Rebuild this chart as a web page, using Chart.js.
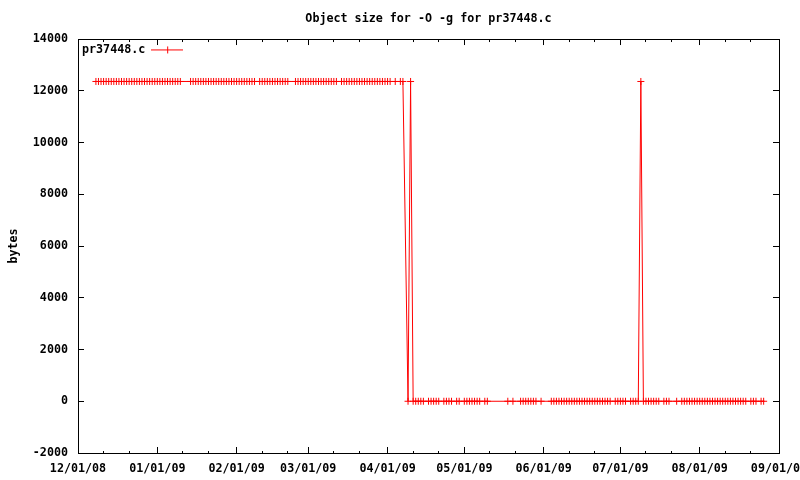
<!DOCTYPE html>
<html>
<head>
<meta charset="utf-8">
<script src="https://cdn.jsdelivr.net/npm/chart.js@4.4.1/dist/chart.umd.min.js"></script>
<style>
  html, body { margin: 0; padding: 0; background: #ffffff; }
  #c { display: block; }
</style>
</head>
<body>
<canvas id="c" width="800" height="480"></canvas>
<script>
// ---------------- data ----------------
const chartTitle = "Object size for -O -g for pr37448.c";
const seriesName = "pr37448.c";
const yAxisTitle = "bytes";

// sample dates (MM/DD/YY) and object size in bytes
const dates = [
  "12/08/08","12/09/08","12/10/08","12/11/08","12/12/08","12/13/08","12/14/08","12/15/08","12/16/08","12/17/08","12/18/08","12/19/08",
  "12/20/08","12/21/08","12/22/08","12/23/08","12/24/08","12/25/08","12/26/08","12/27/08","12/28/08","12/29/08","12/30/08","12/31/08",
  "01/01/09","01/02/09","01/03/09","01/04/09","01/05/09","01/06/09","01/07/09","01/08/09","01/09/09","01/10/09",
  "01/14/09","01/15/09","01/16/09","01/17/09","01/18/09","01/19/09","01/20/09","01/21/09","01/22/09",
  "01/23/09","01/24/09","01/25/09","01/26/09","01/27/09","01/28/09","01/29/09","01/30/09","01/31/09",
  "02/01/09","02/02/09","02/03/09","02/04/09","02/05/09","02/06/09","02/07/09","02/08/09",
  "02/10/09","02/11/09","02/12/09","02/13/09","02/14/09","02/15/09","02/16/09","02/17/09","02/18/09","02/19/09","02/20/09","02/21/09",
  "02/24/09","02/25/09","02/26/09","02/27/09","02/28/09",
  "03/01/09","03/02/09","03/03/09","03/04/09","03/05/09","03/06/09","03/07/09","03/08/09","03/09/09","03/10/09","03/11/09","03/12/09",
  "03/14/09","03/15/09","03/16/09","03/17/09","03/18/09","03/19/09","03/20/09","03/21/09","03/22/09",
  "03/23/09","03/24/09","03/25/09","03/26/09","03/27/09","03/28/09","03/29/09","03/30/09","03/31/09",
  "04/01/09","04/02/09","04/04/09","04/06/09","04/07/09",
  "04/09/09","04/10/09","04/11/09",
  "04/12/09","04/13/09","04/14/09","04/15/09","04/17/09","04/18/09","04/19/09","04/20/09","04/21/09",
  "04/23/09","04/24/09","04/25/09","04/26/09","04/28/09","04/29/09",
  "05/01/09","05/02/09","05/03/09","05/04/09","05/05/09","05/06/09","05/07/09","05/09/09","05/10/09","05/18/09","05/20/09",
  "05/23/09","05/24/09","05/25/09","05/26/09","05/27/09","05/28/09","05/29/09","05/31/09",
  "06/04/09","06/05/09","06/06/09","06/07/09","06/08/09","06/09/09","06/10/09","06/11/09","06/12/09","06/13/09","06/14/09","06/15/09",
  "06/16/09","06/17/09","06/18/09","06/19/09","06/20/09","06/21/09","06/22/09","06/23/09","06/24/09","06/25/09","06/26/09","06/27/09",
  "06/29/09","06/30/09",
  "07/01/09","07/02/09","07/03/09","07/05/09","07/06/09","07/07/09","07/08/09",
  "07/09/09",
  "07/10/09","07/11/09","07/12/09","07/13/09","07/14/09","07/15/09","07/16/09","07/18/09","07/19/09","07/20/09","07/23/09",
  "07/25/09","07/26/09","07/27/09","07/28/09","07/29/09","07/30/09","07/31/09",
  "08/01/09","08/02/09","08/03/09","08/04/09","08/05/09","08/06/09","08/07/09","08/08/09","08/09/09","08/10/09",
  "08/11/09","08/12/09","08/13/09","08/14/09","08/15/09","08/16/09","08/17/09","08/18/09","08/19/09",
  "08/21/09","08/22/09","08/23/09","08/25/09","08/26/09"
];
const sizes = [
  12360,12360,12360,12360,12360,12360,12360,12360,12360,12360,12360,12360,
  12360,12360,12360,12360,12360,12360,12360,12360,12360,12360,12360,12360,
  12360,12360,12360,12360,12360,12360,12360,12360,12360,12360,
  12360,12360,12360,12360,12360,12360,12360,12360,12360,
  12360,12360,12360,12360,12360,12360,12360,12360,12360,
  12360,12360,12360,12360,12360,12360,12360,12360,
  12360,12360,12360,12360,12360,12360,12360,12360,12360,12360,12360,12360,
  12360,12360,12360,12360,12360,
  12360,12360,12360,12360,12360,12360,12360,12360,12360,12360,12360,12360,
  12360,12360,12360,12360,12360,12360,12360,12360,12360,
  12360,12360,12360,12360,12360,12360,12360,12360,12360,
  12360,12360,12360,12360,12360,
  0,12360,0,
  0,0,0,0,0,0,0,0,0,
  0,0,0,0,0,0,
  0,0,0,0,0,0,0,0,0,0,0,
  0,0,0,0,0,0,0,0,
  0,0,0,0,0,0,0,0,0,0,0,0,
  0,0,0,0,0,0,0,0,0,0,0,0,
  0,0,
  0,0,0,0,0,0,0,
  12360,
  0,0,0,0,0,0,0,0,0,0,0,
  0,0,0,0,0,0,0,
  0,0,0,0,0,0,0,0,0,0,
  0,0,0,0,0,0,0,0,0,
  0,0,0,0,0
];

// axis ticks
const xTickDates  = ["12/01/08","01/01/09","02/01/09","03/01/09","04/01/09","05/01/09","06/01/09","07/01/09","08/01/09","09/01/09"];
const xTickLabels = ["12/01/08","01/01/09","02/01/09","03/01/09","04/01/09","05/01/09","06/01/09","07/01/09","08/01/09","09/01/09"];
const xMinorTickDates = ["12/11/08","12/21/08","01/11/09","01/21/09","02/11/09","02/21/09","03/11/09","03/21/09",
                         "04/11/09","04/21/09","05/11/09","05/21/09","06/11/09","06/21/09","07/11/09","07/21/09",
                         "08/11/09","08/21/09"];
const yMin = -2000, yMax = 14000, yStep = 2000;

// ---------------- helpers ----------------
const ORIGIN = Date.UTC(2008, 11, 1);
function dayOf(s) {
  const [mm, dd, yy] = s.split('/').map(Number);
  return (Date.UTC(2000 + yy, mm - 1, dd) - ORIGIN) / 86400000;
}
if (dates.length !== sizes.length) console.error('length mismatch', dates.length, sizes.length);

const points = dates.map((d, i) => ({ x: dayOf(d), y: sizes[i] }));
const majorDays = xTickDates.map(dayOf);
const minorDays = xMinorTickDates.map(dayOf);
const labelOf = new Map(majorDays.map((d, i) => [d, xTickLabels[i]]));
const minorSet = new Set(minorDays);
const allXTicks = majorDays.concat(minorDays).sort((a, b) => a - b);

const FONT = { family: "'DejaVu Sans Mono', 'Liberation Mono', monospace", size: 11.7, weight: 'bold' };
Chart.defaults.font = Object.assign({}, Chart.defaults.font, FONT);
Chart.defaults.color = '#000000';

// legend glyph: line with a "+" in the middle (gnuplot style)
const glyph = document.createElement('canvas');
glyph.width = 32; glyph.height = 9;
(function () {
  const g = glyph.getContext('2d');
  g.strokeStyle = '#ff0000'; g.lineWidth = 1;
  g.beginPath();
  g.moveTo(0, 4.5); g.lineTo(32, 4.5);
  g.moveTo(16.5, 1); g.lineTo(16.5, 8);
  g.stroke();
})();

// keep the in-plot legend in the top-left corner of the plot area
const legendInPlot = {
  id: 'legendInPlot',
  afterLayout(chart) {
    const l = chart.legend, a = chart.chartArea;
    if (!l || !a) return;
    const h = l.height, w = l.width;
    l.left = a.left - 6; l.right = l.left + w;
    l.top = a.top + 1; l.bottom = l.top + h;
  }
};

const blackBorder = { display: true, color: '#000000', width: 1 };

new Chart(document.getElementById('c'), {
  type: 'scatter',
  data: {
    datasets: [{
      label: seriesName,
      data: points,
      showLine: true,
      borderColor: '#ff0000',
      backgroundColor: '#ff0000',
      borderWidth: 1,
      tension: 0,
      fill: false,
      pointStyle: 'cross',
      pointRadius: 3.5,
      pointHoverRadius: 3.5,
      pointBorderColor: '#ff0000',
      pointBorderWidth: 1
    }]
  },
  plugins: [legendInPlot],
  options: {
    responsive: false,
    animation: false,
    events: [],
    layout: { padding: { left: 0, right: 20, top: 0, bottom: 4 } },
    plugins: {
      tooltip: { enabled: false },
      title: {
        display: true, text: chartTitle, fullSize: false, color: '#000000',
        font: FONT, padding: { top: 12, bottom: 2 }
      },
      legend: {
        position: 'chartArea', align: 'start', rtl: true, textDirection: 'ltr',
        labels: {
          usePointStyle: true, pointStyleWidth: 32, padding: 4, color: '#000000', font: FONT,
          generateLabels(chart) {
            const items = Chart.defaults.plugins.legend.labels.generateLabels(chart);
            items.forEach(it => { it.pointStyle = glyph; });
            return items;
          }
        }
      }
    },
    scales: {
      x: {
        type: 'linear', position: 'bottom',
        min: majorDays[0], max: majorDays[majorDays.length - 1],
        afterBuildTicks: s => { s.ticks = allXTicks.map(v => ({ value: v })); },
        afterFit: s => { s.height = 23; s.paddingLeft = 0; s.paddingRight = 0; },
        ticks: {
          autoSkip: false, maxRotation: 0, minRotation: 0, padding: 15, color: '#000000', font: FONT,
          callback: v => (labelOf.has(v) ? labelOf.get(v) : '')
        },
        grid: {
          drawOnChartArea: false, drawTicks: true, tickLength: -6,
          tickColor: '#000000', tickWidth: 1,
          tickBorderDash: c => (c.tick && minorSet.has(c.tick.value) ? [3, 20] : [])
        },
        border: blackBorder
      },
      x2: {
        type: 'linear', position: 'top',
        min: majorDays[0], max: majorDays[majorDays.length - 1],
        afterBuildTicks: s => { s.ticks = allXTicks.map(v => ({ value: v })); },
        afterFit: s => { s.height = 11; s.paddingLeft = 0; s.paddingRight = 0; },
        ticks: { autoSkip: false, maxRotation: 0, minRotation: 0, padding: 3, font: FONT, callback: () => '' },
        grid: {
          drawOnChartArea: false, drawTicks: true, tickLength: -6,
          tickColor: '#000000', tickWidth: 1,
          tickBorderDash: c => (c.tick && minorSet.has(c.tick.value) ? [0, 3, 20] : [])
        },
        border: blackBorder
      },
      y: {
        type: 'linear', position: 'left',
        min: yMin, max: yMax,
        afterFit: s => { s.width = 78; },
        ticks: { stepSize: yStep, padding: 16, color: '#000000', font: FONT, callback: v => String(v) },
        grid: { drawOnChartArea: false, drawTicks: true, tickLength: -6, tickColor: '#000000', tickWidth: 1 },
        border: blackBorder,
        title: { display: true, text: yAxisTitle, color: '#000000', font: FONT, padding: { top: 7, bottom: 12 } }
      },
      y2: {
        type: 'linear', position: 'right',
        min: yMin, max: yMax,
        afterFit: s => { s.width = 1; },
        ticks: { stepSize: yStep, padding: 7, font: FONT, callback: () => '' },
        grid: { drawOnChartArea: false, drawTicks: true, tickLength: -6, tickColor: '#000000', tickWidth: 1 },
        border: blackBorder
      }
    }
  }
});
</script>
</body>
</html>
